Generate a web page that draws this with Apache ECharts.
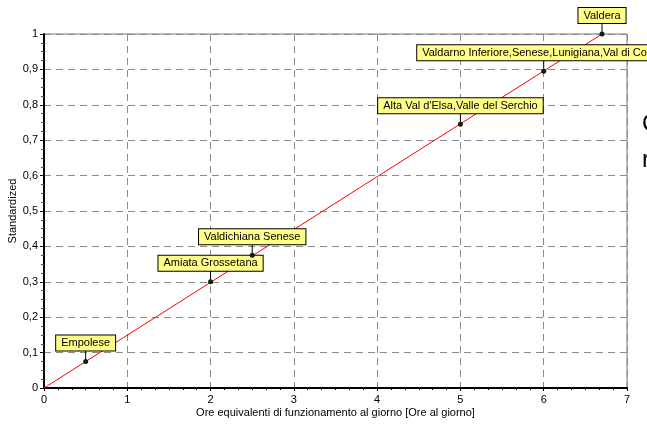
<!DOCTYPE html>
<html>
<head>
<meta charset="utf-8">
<script src="https://cdn.jsdelivr.net/npm/echarts@6/dist/echarts.min.js"></script>
<style>
  html, body { margin: 0; padding: 0; background: #fff; }
  #chart { width: 647px; height: 425px; }
</style>
</head>
<body>
<div id="chart"></div>
<script>
// Territorial areas, hours of equivalent operation per day vs standardized value
const areaNames = [
  'Empolese',
  'Amiata Grossetana',
  'Valdichiana Senese',
  "Alta Val d'Elsa,Valle del Serchio",
  'Valdarno Inferiore,Senese,Lunigiana,Val di Cornia',
  'Valdera'
];
const hoursPerDay = [0.5, 2, 2.5, 5, 6, 6.7];
const standardized = [0.075, 0.3, 0.375, 0.745, 0.895, 1.0];

// Reference line endpoints
const lineX = [0, 6.7];
const lineY = [0, 1];

const xTicks = [0, 1, 2, 3, 4, 5, 6, 7];
const yTicks = [0, 0.1, 0.2, 0.3, 0.4, 0.5, 0.6, 0.7, 0.8, 0.9, 1];

const FONT = 'Liberation Sans, Arial, sans-serif';

const pointData = hoursPerDay.map((x, i) => [x, standardized[i], areaNames[i]]);
const lineData = lineX.map((x, i) => [x, lineY[i]]);

const chart = echarts.init(document.getElementById('chart'), null, { renderer: 'canvas' });

chart.setOption({
  animation: false,
  backgroundColor: '#fff',
  textStyle: { fontFamily: FONT },
  grid: {
    left: 44, right: 20, top: 34, bottom: 37,
    containLabel: false,
    outerBoundsMode: 'none',
    show: true, borderColor: '#777', borderWidth: 1, backgroundColor: 'transparent'
  },
  xAxis: {
    type: 'value',
    min: xTicks[0], max: xTicks[xTicks.length - 1], interval: 1,
    name: 'Ore equivalenti di funzionamento al giorno [Ore al giorno]',
    nameLocation: 'middle', nameGap: 19, nameMoveOverlap: false,
    nameTextStyle: { fontSize: 11, color: '#000', fontFamily: FONT },
    axisLine: { show: true, onZero: false, lineStyle: { color: '#000', width: 2 } },
    axisTick: { show: true, length: 3, lineStyle: { color: '#000' } },
    minorTick: { show: true, splitNumber: 6, length: 2, lineStyle: { color: '#000' } },
    axisLabel: { fontSize: 11, color: '#000', margin: 6, fontFamily: FONT },
    splitLine: { show: true, lineStyle: { color: '#8a8a8a', type: [7, 5], width: 1 } }
  },
  yAxis: {
    type: 'value',
    min: yTicks[0], max: yTicks[yTicks.length - 1], interval: 0.1,
    name: 'Standardized',
    nameLocation: 'middle', nameGap: 26, nameRotate: 90, nameMoveOverlap: false,
    nameTextStyle: { fontSize: 11, color: '#000', fontFamily: FONT },
    axisLine: { show: true, onZero: false, lineStyle: { color: '#000', width: 2 } },
    axisTick: { show: true, length: 4, lineStyle: { color: '#000' } },
    minorTick: { show: true, splitNumber: 4, length: 3, lineStyle: { color: '#555' } },
    axisLabel: {
      fontSize: 11, color: '#000', margin: 6, fontFamily: FONT,
      formatter: v => String(+v.toFixed(1)).replace('.', ',')
    },
    splitLine: { show: true, lineStyle: { color: '#8a8a8a', type: [7, 5], width: 1 } }
  },
  graphic: [
    { type: 'text', left: 642, top: 112, silent: true,
      style: { text: 'C', font: '24px ' + FONT, fill: '#000' } },
    { type: 'text', left: 642, top: 148, silent: true,
      style: { text: 'r', font: '24px ' + FONT, fill: '#000' } }
  ],
  series: [
    {
      type: 'line',
      data: lineData,
      symbol: 'none',
      lineStyle: { color: '#ff0000', width: 1 },
      z: 2
    },
    {
      type: 'custom',
      data: pointData,
      clip: false,
      z: 5,
      renderItem: function (params, api) {
        const p = api.coord([api.value(0), api.value(1)]);
        const name = pointData[params.dataIndex][2];
        const gap = 11;
        return {
          type: 'group',
          children: [
            {
              type: 'line',
              shape: { x1: p[0], y1: p[1], x2: p[0], y2: p[1] - gap },
              style: { stroke: '#000', lineWidth: 1 }
            },
            {
              type: 'circle',
              shape: { cx: p[0], cy: p[1], r: 2.5 },
              style: { fill: '#0a1f0a', stroke: null }
            },
            {
              type: 'text',
              x: p[0], y: p[1] - gap,
              style: {
                text: name,
                font: '11px ' + FONT,
                fill: '#000',
                align: 'center',
                verticalAlign: 'bottom',
                backgroundColor: '#ffff88',
                borderColor: '#000',
                borderWidth: 1,
                padding: [1, 5, 1, 5],
                lineHeight: 13
              }
            }
          ]
        };
      }
    }
  ]
});
</script>
</body>
</html>
